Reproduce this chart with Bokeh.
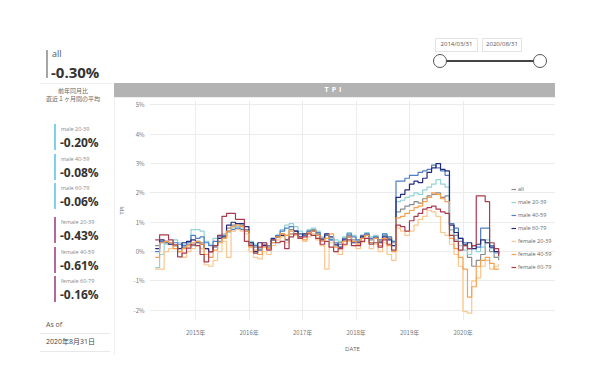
import pandas as pd
from bokeh.plotting import figure
from bokeh.layouts import row, column
from bokeh.models import (Div, Legend, LegendItem, FixedTicker, PrintfTickFormatter,
                          DatetimeTickFormatter, Range1d, ColumnDataSource)
from bokeh.embed import file_html
from bokeh.resources import INLINE

# ---------------- data ----------------
months = pd.date_range("2014-03-31", periods=78, freq=pd.offsets.MonthEnd())

series_names = ["all", "male 20-39", "male 40-59", "male 60-79",
                "female 20-39", "female 40-59", "female 60-79"]
series_colors = ["#8c8c8c", "#93d2d6", "#4f7fc4", "#262a7c",
                 "#fdc68e", "#f6a04c", "#a93a4d"]

all_vals = [0.2, 0.3, 0.3, 0.25, 0.2, 0.0, 0.15, 0.25, 0.2, 0.35,
            0.3, 0.1, 0.0, 0.15, 0.35, 0.45, 0.8, 0.9, 0.95, 0.9, 0.75, 0.25,
            0.15, 0.05, 0.2, 0.15, 0.3, 0.5, 0.6, 0.55, 0.75, 0.7, 0.6, 0.55,
            0.7, 0.75, 0.6, 0.45, 0.55, 0.4, 0.2, 0.3, 0.45, 0.55, 0.4, 0.35,
            0.5, 0.6, 0.4, 0.5, 0.35, 0.55, 0.45, 0.3, 1.35, 1.45, 1.55, 1.6,
            1.7, 1.65, 1.8, 1.9, 1.95, 2.0, 1.85, 1.9, 0.75, 0.55, 0.35, 0.2,
            -0.2, -0.5, -0.3, -0.1, 0.3, 0.0, -0.2, -0.3]
male_20_39 = [-0.55, -0.1, 0.25, 0.3, 0.4, 0.3, 0.25, 0.3, 0.75, 0.75,
              0.7, 0.35, 0.25, 0.45, 0.55, 0.6, 0.65, 0.8, 0.85, 0.8, 0.7, 0.35,
              0.25, 0.1, 0.3, 0.2, 0.4, 0.55, 0.75, 0.9, 0.95, 0.85, 0.7, 0.6,
              0.75, 0.8, 0.7, 0.5, 0.6, 0.45, 0.4, 0.35, 0.5, 0.65, 0.55, 0.4,
              0.55, 0.65, 0.5, 0.55, 0.4, 0.6, 0.5, 0.35, 1.7, 1.75, 1.85, 1.9,
              2.0, 1.95, 2.1, 2.2, 2.3, 2.45, 2.3, 2.2, 0.75, 0.4, 0.2, 0.05,
              -0.1, 0.1, 0.0, 0.15, 0.4, 0.1, -0.05, -0.2]
male_40_59 = [0.0, 0.35, 0.3, 0.3, 0.3, 0.25, 0.2, 0.3, 0.55, 0.45,
              0.5, 0.3, 0.2, 0.35, 0.5, 0.55, 0.7, 0.75, 0.8, 0.75, 0.7, 0.3,
              0.2, 0.05, 0.25, 0.2, 0.4, 0.55, 0.7, 0.8, 0.85, 0.7, 0.6, 0.55,
              0.7, 0.7, 0.65, 0.45, 0.55, 0.4, 0.3, 0.25, 0.45, 0.6, 0.5, 0.4,
              0.55, 0.6, 0.45, 0.5, 0.4, 0.6, 0.5, 0.35, 2.4, 2.4, 2.5, 2.6,
              2.6, 2.7, 2.75, 2.8, 2.95, 2.85, 2.75, 2.6, 0.95, 0.8, 0.45, 0.3,
              0.1, 0.2, 0.15, 0.8, 0.8, 0.2, 0.0, -0.08]
male_60_79 = [0.1, 0.4, 0.35, 0.25, 0.2, 0.1, 0.3, 0.35, 0.4, 0.3,
              0.25, 0.1, 0.0, 0.2, 0.45, 0.5, 0.9, 1.0, 0.95, 0.95, 0.85, 0.3,
              0.0, 0.3, 0.2, 0.1, 0.45, 0.5, 0.55, 0.4, 0.6, 0.7, 0.5, 0.6,
              0.65, 0.7, 0.55, 0.4, 0.6, 0.5, 0.25, 0.15, 0.4, 0.5, 0.3, 0.3,
              0.5, 0.55, 0.3, 0.45, 0.3, 0.5, 0.4, 0.2, 1.85, 1.95, 2.1, 2.3,
              2.4, 2.35, 2.5, 2.7, 2.85, 3.0, 2.8, 2.75, 0.9, 0.65, 0.45, 0.25,
              0.3, 0.1, 0.25, 0.4, 0.3, 0.15, 0.0, -0.06]
female_20_39 = [-0.6, -0.6, 0.0, 0.1, 0.2, 0.0, -0.2, 0.0, 0.1, 0.2,
                0.1, -0.45, -0.5, -0.3, 0.0, 0.35, -0.2, 0.7, 0.75, 0.7, 0.6, 0.0,
                -0.2, -0.25, 0.0, -0.1, 0.2, 0.4, 0.5, 0.3, 0.6, 0.55, 0.45, 0.35,
                0.5, 0.6, 0.4, 0.2, -0.6, 0.3, 0.0, -0.1, 0.2, 0.35, 0.2, 0.1,
                0.3, 0.45, 0.1, 0.25, 0.0, 0.3, -0.1, -0.3, 0.8, 0.7, 0.55, 0.7,
                0.9, 1.1, 1.2, 1.4, 1.35, 1.2, 0.65, 0.55, 0.25, -0.1, -0.5, -2.05,
                -2.1, -1.0, -0.9, -0.5, -0.3, -0.6, -0.5, -0.43]
female_40_59 = [-0.2, 0.3, 0.35, 0.3, 0.1, 0.0, 0.1, 0.2, 0.3, 0.35,
                0.25, -0.1, -0.2, 0.05, 0.3, 0.45, 0.7, 0.85, 0.9, 0.85, 0.7, 0.15,
                0.05, -0.1, 0.15, 0.1, 0.3, 0.5, 0.6, 0.55, 0.7, 0.6, 0.45, 0.4,
                0.65, 0.7, 0.55, 0.35, 0.45, 0.6, 0.15, 0.1, 0.35, 0.5, 0.35, 0.25,
                0.45, 0.55, 0.3, 0.45, 0.2, 0.45, 0.2, 0.0, 1.15, 1.2, 1.3, 1.4,
                1.5, 1.55, 1.7, 1.85, 2.0, 1.95, 1.8, 1.7, 0.45, 0.1, -0.2, -0.6,
                -1.55, -1.2, -0.5, -0.3, -0.2, -0.4, -0.6, -0.61]
female_60_79 = [0.4, 0.57, 0.57, 0.4, 0.23, -0.18, -0.05, 0.12, 0.25, 0.2,
                -0.1, -0.35, 0.0, 0.2, 0.55, 1.2, 1.3, 1.3, 1.1, 1.1, 0.35, 0.2,
                -0.05, 0.15, 0.3, 0.05, 0.4, 0.3, 0.35, 0.1, 0.5, 0.6, 0.45, 0.5,
                0.6, 0.55, 0.45, 0.25, 0.35, 0.15, 0.0, 0.1, 0.25, 0.4, 0.2, 0.2,
                0.35, 0.45, 0.25, 0.3, 0.15, 0.4, 0.25, 0.05, 0.9, 0.85, 0.7, 1.05,
                1.2, 1.3, 1.45, 1.5, 1.55, 1.45, 1.35, 1.3, 0.55, 0.35, 0.05, 0.2,
                0.1, 0.2, 1.9, 1.9, 1.7, 0.3, 0.1, -0.16]
series_values = [all_vals, male_20_39, male_40_59, male_60_79,
                 female_20_39, female_40_59, female_60_79]

# KPI cards
kpi_all = "-0.30%"
kpi_names = ["male 20-39", "male 40-59", "male 60-79",
             "female 20-39", "female 40-59", "female 60-79"]
kpi_values = ["-0.20%", "-0.08%", "-0.06%", "-0.43%", "-0.61%", "-0.16%"]
as_of_text = "2020年8月31日"
date_from, date_to = "2014/03/31", "2020/08/31"

y_ticks = [-2, -1, 0, 1, 2, 3, 4, 5]
x_tick_years = [2015, 2016, 2017, 2018, 2019, 2020]

LATIN = "Open Sans"
JP = "Noto Sans CJK JP"
CSS_FONT = "'Open Sans','Noto Sans CJK JP',sans-serif"

# ---------------- html helpers ----------------
def el(x, y, w, h, bg="transparent", border=None, radius=0):
    b = f"border:{border};box-sizing:border-box;" if border else ""
    return (f'<div style="position:absolute;left:{x}px;top:{y}px;width:{w}px;height:{h}px;'
            f'background:{bg};{b}border-radius:{radius}px;"></div>')

def tx(x, y, s, size, color="#555", bold=False, align="left", extra=""):
    tr = "transform:translateX(-50%);" if align == "center" else ""
    return (f'<div style="position:absolute;left:{x}px;top:{y - size * 0.62:.1f}px;'
            f'font-family:{CSS_FONT};font-size:{size}px;line-height:{size * 1.24:.1f}px;'
            f'color:{color};white-space:nowrap;font-weight:{"bold" if bold else "normal"};{tr}{extra}">'
            f'{s}</div>')

def wrap(w, h, parts):
    return f'<div style="position:relative;width:{w}px;height:{h}px;overflow:hidden;">' + "".join(parts) + "</div>"

# ---------------- left KPI panel ----------------
LW = 114
left = [
    el(46, 50, 2, 28, bg="#a6a6a6"),
    tx(52, 54, "all", 9, color="#555"),
    tx(51, 72, kpi_all, 15, color="#333", bold=True),
    el(40, 83, 72, 1, bg="#efefef"),
    tx(73, 92, "前年同月比", 6, color="#666", align="center"),
    tx(73, 100, "直近１ヶ月間の平均", 6, color="#666", align="center"),
]
card_tops = [124, 154, 183, 217, 247, 276]
card_colors = ["#7fcff0"] * 3 + ["#b4679c"] * 3
for top, c, n, v in zip(card_tops, card_colors, kpi_names, kpi_values):
    left.append(el(54, top, 2, 26, bg=c))
    left.append(tx(61, top + 5, n, 5.5, color="#888"))
    left.append(tx(60, top + 19, v, 12, color="#333", bold=True))
left += [
    tx(46, 325, "As of", 7, color="#555"),
    el(40, 333, 70, 1, bg="#e8e8e8"),
    tx(46, 342, as_of_text, 7, color="#444"),
    el(40, 351, 70, 1, bg="#e8e8e8"),
]
left_div = Div(text=wrap(LW, 385, left), width=LW, height=385, margin=0)

# ---------------- top strip: date slider + title bar ----------------
TW, TH = 486, 97
top_parts = [
    el(321, 38, 43, 14, bg="white", border="1px solid #e3e3e3"),
    el(368, 38, 40, 14, bg="white", border="1px solid #e3e3e3"),
    tx(342.5, 45, date_from, 6, color="#555", align="center"),
    tx(388, 45, date_to, 6, color="#555", align="center"),
    el(326, 60, 100, 2, bg="#444"),
    el(319, 54, 14, 14, bg="white", border="1.3px solid #555", radius=7),
    el(419, 54, 14, 14, bg="white", border="1.3px solid #555", radius=7),
    el(0, 83, 441, 14, bg="#b3b3b3"),
    tx(220.5, 90, "TPI", 7, color="white", bold=True, align="center", extra="letter-spacing:3px;"),
]
top_div = Div(text=wrap(TW, TH, top_parts), width=TW, height=TH, margin=0)

# ---------------- chart ----------------
FW, FH = 441, 258
BL, BR, BT, BB = 31, 0, 3, 27
frame_w = FW - BL - BR
x_start = pd.Timestamp("2014-02-20")
x_vis_end = pd.Timestamp("2020-10-20")      # where the plotting area visually ends
vis_w = 360                                 # px of plotting area before the legend
x_end = x_start + (x_vis_end - x_start) * (frame_w / vis_w)

p = figure(width=FW, height=FH, output_backend="svg", toolbar_location=None,
           x_axis_type="datetime",
           x_range=Range1d(x_start, x_end),
           y_range=Range1d(-2.35, 5.15),
           min_border_left=BL, min_border_right=BR,
           min_border_top=BT, min_border_bottom=BB, margin=0)
p.outline_line_color = None
p.styles = {"outline": "1px solid #e8e8e8", "outline-offset": "-1px"}

renderers = []
for name, col, vals in zip(series_names, series_colors, series_values):
    src = ColumnDataSource(dict(x=months, y=vals))
    r = p.step("x", "y", source=src, mode="after", line_color=col, line_width=1.2)
    renderers.append((name, r))

p.yaxis.ticker = FixedTicker(ticks=y_ticks)
p.yaxis.formatter = PrintfTickFormatter(format="%d%%")
p.xaxis.ticker = FixedTicker(ticks=[pd.Timestamp(f"{y}-01-01").value // 10**6 for y in x_tick_years])
p.xaxis.formatter = DatetimeTickFormatter(years="%Y年", months="%Y年", days="%Y年")
for ax in (p.xaxis[0], p.yaxis[0]):
    ax.axis_line_color = None
    ax.major_tick_line_color = None
    ax.minor_tick_line_color = None
    ax.major_tick_out = 0
    ax.minor_tick_out = 0
    ax.major_label_text_font = JP
    ax.major_label_text_font_size = "6px"
    ax.major_label_text_color = "#777777"
    ax.axis_label_text_font = LATIN
    ax.axis_label_text_font_size = "6px"
    ax.axis_label_text_font_style = "normal"
    ax.axis_label_text_color = "#666666"
p.xaxis.axis_label = "DATE"
p.yaxis.axis_label = "TPI"
p.xaxis.major_label_standoff = 7
p.xaxis.axis_label_standoff = 5
p.yaxis.major_label_standoff = 5
p.yaxis.axis_label_standoff = 5
p.xgrid.grid_line_color = "#ececec"
p.ygrid.grid_line_color = "#ececec"
p.ygrid.bounds = (x_start.value // 10**6, x_vis_end.value // 10**6)

legend = Legend(items=[LegendItem(label=n, renderers=[r]) for n, r in renderers],
                location=(vis_w + 2, 49))
legend.label_text_font = LATIN
legend.label_text_font_size = "5.5px"
legend.label_text_color = "#666666"
legend.glyph_width = 5
legend.glyph_height = 8
legend.label_height = 8
legend.label_standoff = 2
legend.spacing = 5
legend.padding = 2
legend.margin = 0
legend.border_line_color = None
legend.background_fill_alpha = 0
p.add_layout(legend)

layout = row(left_div, column(top_div, p, spacing=0), spacing=0)
open("out.html", "w").write(file_html(layout, INLINE))
